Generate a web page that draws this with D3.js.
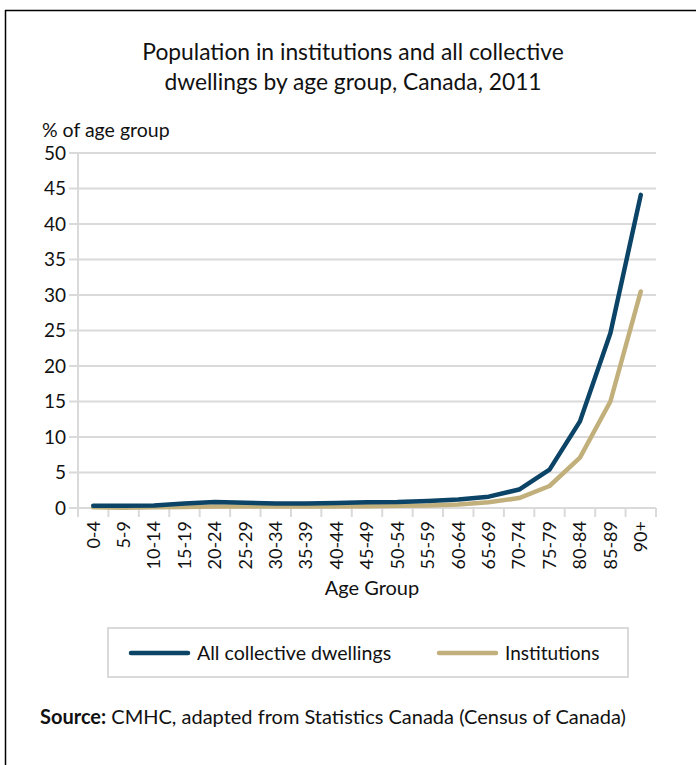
<!DOCTYPE html>
<html>
<head>
<meta charset="utf-8">
<script src="https://cdn.jsdelivr.net/npm/d3@7"></script>
<style>
  html, body { margin: 0; padding: 0; background: #fff; }
  svg { display: block; font-family: "Lato", "Open Sans", sans-serif; }
</style>
</head>
<body>
<svg id="chart" width="696" height="765"></svg>
<script>
// Age groups along the x axis
const ageGroups = ["0-4","5-9","10-14","15-19","20-24","25-29","30-34","35-39","40-44",
  "45-49","50-54","55-59","60-64","65-69","70-74","75-79","80-84","85-89","90+"];

// Share of each age group living in collective dwellings (%)
const allCollective = [0.3,0.3,0.35,0.65,0.85,0.75,0.65,0.65,0.7,0.8,0.85,1.0,1.2,1.6,2.6,5.4,12.2,24.6,44.1];
// Share of each age group living in institutions (%)
const institutions = [0.1,0.05,0.1,0.15,0.2,0.2,0.2,0.2,0.2,0.25,0.3,0.35,0.5,0.8,1.4,3.1,7.1,15.0,30.5];

const yTicks = [0,5,10,15,20,25,30,35,40,45,50];
const seriesNames = ["All collective dwellings","Institutions"];
const seriesColors = ["#0b4466","#c2b07c"];

const svg = d3.select("#chart");

// Frame lines
svg.append("line").attr("x1",5).attr("x2",696).attr("y1",10.5).attr("y2",10.5)
  .attr("stroke","#000").attr("stroke-width",1.5);
svg.append("line").attr("x1",5.5).attr("x2",5.5).attr("y1",10).attr("y2",765)
  .attr("stroke","#000").attr("stroke-width",1.5);

// Title
const title = svg.append("text").attr("text-anchor","middle")
  .attr("font-size",22.8).attr("fill","#111");
title.append("tspan").attr("x",353).attr("y",60).text("Population in institutions and all collective");
title.append("tspan").attr("x",353).attr("y",90).text("dwellings by age group, Canada, 2011");

svg.append("text").attr("x",42).attr("y",137).attr("font-size",19.5).attr("fill","#111")
  .text("% of age group");

const plotLeft = 78, plotRight = 656, plotTop = 153, plotBottom = 508;

const x = d3.scalePoint().domain(ageGroups).range([plotLeft, plotRight]).padding(0.5);
const xEdge = d3.scaleLinear().domain([0, ageGroups.length]).range([plotLeft, plotRight]);
const y = d3.scaleLinear().domain([0, 50]).range([plotBottom, plotTop]);

const gridColor = "#dadada";

// Horizontal gridlines (extend slightly left of the axis as ticks)
svg.append("g").selectAll("line").data(yTicks).join("line")
  .attr("x1", plotLeft - 9).attr("x2", plotRight)
  .attr("y1", d => y(d)).attr("y2", d => y(d))
  .attr("stroke", gridColor).attr("stroke-width", 2);

// Vertical axis line
svg.append("line").attr("x1",plotLeft).attr("x2",plotLeft).attr("y1",plotTop).attr("y2",plotBottom + 9)
  .attr("stroke", gridColor).attr("stroke-width", 2);

// Category boundary ticks below the x axis
svg.append("g").selectAll("line").data(d3.range(1, ageGroups.length + 1)).join("line")
  .attr("x1", d => xEdge(d)).attr("x2", d => xEdge(d))
  .attr("y1", plotBottom).attr("y2", plotBottom + 9)
  .attr("stroke", gridColor).attr("stroke-width", 2);

// Y axis labels
const yAxis = d3.axisLeft(y).tickValues(yTicks).tickSize(0).tickPadding(12);
const yg = svg.append("g").attr("transform", `translate(${plotLeft},0)`).call(yAxis);
yg.select(".domain").remove();
yg.selectAll("text").attr("font-size", 19).attr("fill", "#111")
  .attr("font-family", "Lato, sans-serif");

// X axis labels, rotated
svg.append("g").selectAll("text").data(ageGroups).join("text")
  .attr("transform", d => `translate(${x(d)},${plotBottom + 13}) rotate(-90)`)
  .attr("text-anchor", "end").attr("dy", "0.35em")
  .attr("font-size", 18).attr("fill", "#111")
  .text(d => d);

svg.append("text").attr("x", 372).attr("y", 595).attr("text-anchor","middle")
  .attr("font-size", 20).attr("fill", "#111").text("Age Group");

// Series lines (institutions underneath)
const line = d3.line().x((d, i) => x(ageGroups[i])).y(d => y(d));
[[institutions, 1], [allCollective, 0]].forEach(([vals, idx]) => {
  svg.append("path").datum(vals)
    .attr("d", line)
    .attr("fill", "none")
    .attr("stroke", seriesColors[idx])
    .attr("stroke-width", 4.5)
    .attr("stroke-linejoin", "round")
    .attr("stroke-linecap", "round");
});

// Legend
svg.append("rect").attr("x", 108).attr("y", 628).attr("width", 520).attr("height", 49)
  .attr("fill", "#fff").attr("stroke", gridColor).attr("stroke-width", 2);
const legendX = [131, 439];
const legendSize = [19.6, 19];
seriesNames.forEach((name, i) => {
  svg.append("line").attr("x1", legendX[i]).attr("x2", legendX[i] + 57)
    .attr("y1", 653).attr("y2", 653)
    .attr("stroke", seriesColors[i]).attr("stroke-width", 4.5).attr("stroke-linecap", "round");
  svg.append("text").attr("x", legendX[i] + 66).attr("y", 660)
    .attr("font-size", legendSize[i]).attr("fill", "#111").text(name);
});

// Source note
const src = svg.append("text").attr("x", 40).attr("y", 724).attr("font-size", 20).attr("fill", "#111");
src.append("tspan").attr("font-weight", "bold").text("Source:");
src.append("tspan").text(" CMHC, adapted from Statistics Canada (Census of Canada)");
</script>
</body>
</html>
